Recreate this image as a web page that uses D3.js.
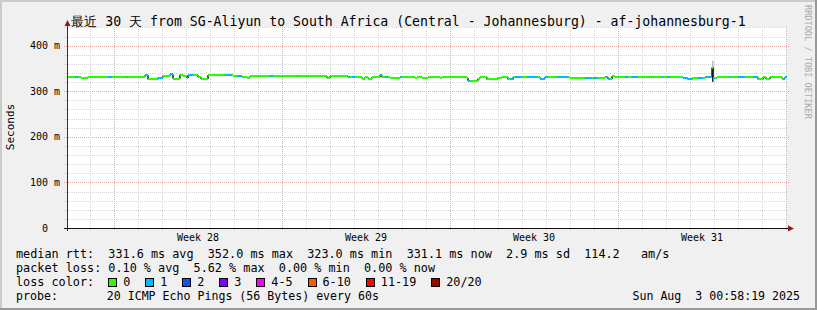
<!DOCTYPE html>
<html><head><meta charset="utf-8">
<script src="https://cdn.jsdelivr.net/npm/d3@7"></script>
<style>
body{margin:0;background:#f0f0f0}
svg{display:block}
text{font-family:"DejaVu Sans Mono",monospace;fill:#000;white-space:pre}
</style>
</head><body>
<svg id="c" width="817" height="310"></svg>
<script>
// ---------------- data ----------------
const titleText = "最近 30 天 from SG-Aliyun to South Africa (Central - Johannesburg) - af-johannesburg-1";
const startTime = "2025-07-04T00:58:19Z";
const endTime = "2025-08-03T00:58:19Z";
const yTicks = [0, 100, 200, 300, 400];
const yTickLabels = ["0", "100 m", "200 m", "300 m", "400 m"];
const weekLabels = ["Week 28", "Week 29", "Week 30", "Week 31"];
// median RTT steps: start hour (from startTime) and value in ms
const stepHours = [0,14,21,78,81,91,96,103,106,113,116,120,121,131,134,141,166,175,180,183,260,263,281,295,298,301,305,313,315,323,333,348,350,355,361,373,375,400,401,411,413,420,430,435,441,446,473,478,503,538,541,545,548,616,621,625,638,645,646,650,691,696,699,703,715,718];
const medianMs  = [332,329,332,335,326,330,334,337,328,336,333,329,335,331,327,335,334,332,330,333,329,333,331,328,331,328,331,335,331,329,331,329,331,329,331,329,331,329,323,328,331,326,329,331,326,331,328,331,329,331,327,333,331,329,326,329,331,352,330,331,326,331,327,331,328,331];
// hours where 1 of 20 pings was lost
const loss1Start = [8,41,60,78,91,103,120,158,170,203,230,280,285,313,318,333,400,443,448,460,473,490,518,526,538,558,565,584,595,600,615,631,638,646,663,671,686,716];
const loss1End   = [11,45,61,81,96,106,126,165,175,206,231,283,288,315,321,335,403,446,455,471,481,501,525,531,543,561,571,585,596,603,625,636,645,648,664,678,691,720];
// smoke (ping spread) where visible
const smokeHours = [645];
const smokeLow = [321];
const smokeHigh = [367];
const lossLabels = ["0", "1", "2", "3", "4-5", "6-10", "11-19", "20/20"];
const lossColors = ["#26ff00", "#00b8ff", "#0059ff", "#7e00ff", "#ff00ff", "#ff5500", "#ff0000", "#a10000"];
const statsRtt = "median rtt:  331.6 ms avg  352.0 ms max  323.0 ms min  331.1 ms now  2.9 ms sd  114.2   am/s";
const statsLoss = "packet loss: 0.10 % avg  5.62 % max  0.00 % min  0.00 % now";
const probeText = "probe:       20 ICMP Echo Pings (56 Bytes) every 60s";
const dateText = "Sun Aug  3 00:58:19 2025";

// ---------------- drawing ----------------
const svg = d3.select("#c");
const W = 817, H = 310;
const t0 = new Date(startTime), t1 = new Date(endTime);
const hd = h => new Date(t0.getTime() + h * 3600e3);
const x = d3.scaleUtc().domain([t0, t1]).range([67, 787]);
const y = d3.scaleLinear().domain([0, 441]).range([228, 27]);

// background + frame
svg.append("rect").attr("width", W).attr("height", H).attr("fill", "#f0f0f0");
svg.append("rect").attr("x", 0).attr("y", 0).attr("width", W).attr("height", 2).attr("fill", "#cbcbcb");
svg.append("rect").attr("x", 0).attr("y", 0).attr("width", 2).attr("height", H).attr("fill", "#cbcbcb");
svg.append("rect").attr("x", W - 2).attr("y", 0).attr("width", 2).attr("height", H).attr("fill", "#999");
svg.append("rect").attr("x", 0).attr("y", H - 2).attr("width", W).attr("height", 2).attr("fill", "#999");

// canvas
svg.append("rect").attr("x", 67).attr("y", 27).attr("width", 720).attr("height", 201).attr("fill", "#fff");

const grid = svg.append("g").attr("shape-rendering", "crispEdges");
const minorY = d3.range(20, 441, 20).filter(v => v % 100 !== 0);
grid.selectAll(".hm").data(minorY).enter().append("line")
  .attr("x1", 64).attr("x2", 787)
  .attr("y1", d => Math.round(y(d)) + 0.5).attr("y2", d => Math.round(y(d)) + 0.5)
  .attr("stroke", "#d6d6d6").attr("stroke-dasharray", "1,1");
grid.selectAll(".hM").data(yTicks.filter(v => v > 0)).enter().append("line")
  .attr("x1", 64).attr("x2", 789)
  .attr("y1", d => Math.round(y(d)) + 0.5).attr("y2", d => Math.round(y(d)) + 0.5)
  .attr("stroke", "#e2a9a9").attr("stroke-dasharray", "1,1");
const days = d3.utcDay.range(d3.utcDay.ceil(t0), t1);
const sundays = d3.utcSunday.range(d3.utcSunday.ceil(t0), t1);
const isSun = d => d.getUTCDay() === 0;
grid.selectAll(".vm").data(days.filter(d => !isSun(d))).enter().append("line")
  .attr("y1", 27).attr("y2", 231)
  .attr("x1", d => Math.round(x(d)) + 0.5).attr("x2", d => Math.round(x(d)) + 0.5)
  .attr("stroke", "#d6d6d6").attr("stroke-dasharray", "1,1");
grid.selectAll(".vM").data(sundays).enter().append("line")
  .attr("y1", 27).attr("y2", 231)
  .attr("x1", d => Math.round(x(d)) + 0.5).attr("x2", d => Math.round(x(d)) + 0.5)
  .attr("stroke", "#e2a9a9").attr("stroke-dasharray", "1,1");

// smoke
smokeHours.forEach((h, i) => {
  const w = Math.max(1.5, x(hd(h + 1)) - x(hd(h)));
  const mid = medianMs[stepHours.indexOf(h)];
  svg.append("rect").attr("x", x(hd(h))).attr("width", w)
    .attr("y", y(smokeHigh[i])).attr("height", y(smokeLow[i]) - y(smokeHigh[i]))
    .attr("fill", "#bbb");
  svg.append("rect").attr("x", x(hd(h))).attr("width", w)
    .attr("y", y(mid)).attr("height", y(smokeLow[i]) - y(mid))
    .attr("fill", "#222");
});

// median line
const lossAt = h => {
  for (let i = 0; i < loss1Start.length; i++) if (h >= loss1Start[i] && h < loss1End[i]) return 1;
  return 0;
};
const trans = svg.append("g");
for (let i = 1; i < stepHours.length; i++) {
  const xx = x(hd(stepHours[i]));
  trans.append("line").attr("x1", xx).attr("x2", xx)
    .attr("y1", y(medianMs[i - 1])).attr("y2", y(medianMs[i]))
    .attr("stroke", "#1a1a1a").attr("stroke-width", 1.5);
}
const segG = svg.append("g").attr("shape-rendering", "crispEdges");
for (let i = 0; i < stepHours.length; i++) {
  const a = stepHours[i], b = i + 1 < stepHours.length ? stepHours[i + 1] : 720;
  const cuts = [a, b];
  loss1Start.concat(loss1End).forEach(c => { if (c > a && c < b) cuts.push(c); });
  cuts.sort((p, q) => p - q);
  for (let k = 0; k < cuts.length - 1; k++) {
    const s = cuts[k], e = cuts[k + 1];
    if (e <= s) continue;
    segG.append("rect")
      .attr("x", x(hd(s))).attr("width", x(hd(e)) - x(hd(s)))
      .attr("y", y(medianMs[i]) - 1).attr("height", 2)
      .attr("fill", lossColors[lossAt(s)]);
  }
}

// axes
const ax = svg.append("g").attr("shape-rendering", "crispEdges");
ax.append("line").attr("x1", 67.5).attr("x2", 67.5).attr("y1", 231).attr("y2", 22).attr("stroke", "#333");
ax.append("line").attr("x1", 64).attr("x2", 790).attr("y1", 228.5).attr("y2", 228.5).attr("stroke", "#111");
svg.append("path").attr("d", "M64.5,26 L67.5,20 L70.5,26 Z").attr("fill", "#8b1a1a");
svg.append("path").attr("d", "M788,225.5 L794,228.5 L788,231.5 Z").attr("fill", "#8b1a1a");

// y labels
svg.selectAll(".yl").data(yTicks).enter().append("text")
  .attr("x", (d, i) => i === 0 ? 48 : 60).attr("y", d => y(d) + 3.5)
  .attr("text-anchor", "end").attr("font-size", "10px")
  .text((d, i) => yTickLabels[i]);
// week labels
svg.selectAll(".wl").data(sundays.slice(0, weekLabels.length)).enter().append("text")
  .attr("x", d => x(new Date(d.getTime() + 3.5 * 864e5))).attr("y", 241)
  .attr("text-anchor", "middle").attr("font-size", "10px")
  .text((d, i) => weekLabels[i]);

// title
svg.append("text").attr("x", 408.5).attr("y", 26).attr("text-anchor", "middle")
  .attr("font-size", "13.2px").text(titleText);
// y title
svg.append("text").attr("transform", "translate(14,127) rotate(-90)").attr("text-anchor", "middle")
  .attr("font-size", "11px").text("Seconds");
// rrdtool watermark
svg.append("text").attr("transform", "translate(805,5) rotate(90)").attr("font-size", "8.6px")
  .style("fill", "#aaa").text("RRDTOOL / TOBI OETIKER");

// legend
const lf = "11.8px", cw = 7.1;
svg.append("text").attr("x", 16).attr("y", 258).attr("font-size", lf).text(statsRtt);
svg.append("text").attr("x", 16).attr("y", 272).attr("font-size", lf).text(statsLoss);
svg.append("text").attr("x", 16).attr("y", 286).attr("font-size", lf).text("loss color:");
let bx = 108.3;
lossLabels.forEach((t, i) => {
  svg.append("rect").attr("x", Math.round(bx) + 0.5).attr("y", 278.5).attr("width", 8).attr("height", 8)
    .attr("fill", lossColors[i]).attr("stroke", "#000").attr("shape-rendering", "crispEdges");
  svg.append("text").attr("x", bx + 15).attr("y", 286).attr("font-size", lf).text(t);
  bx += 37.0 + cw * (t.length - 1);
});
svg.append("text").attr("x", 16).attr("y", 300).attr("font-size", "11.6px").text(probeText);
svg.append("text").attr("x", 800).attr("y", 300).attr("text-anchor", "end").attr("font-size", "11.6px").text(dateText);
</script>
</body></html>
